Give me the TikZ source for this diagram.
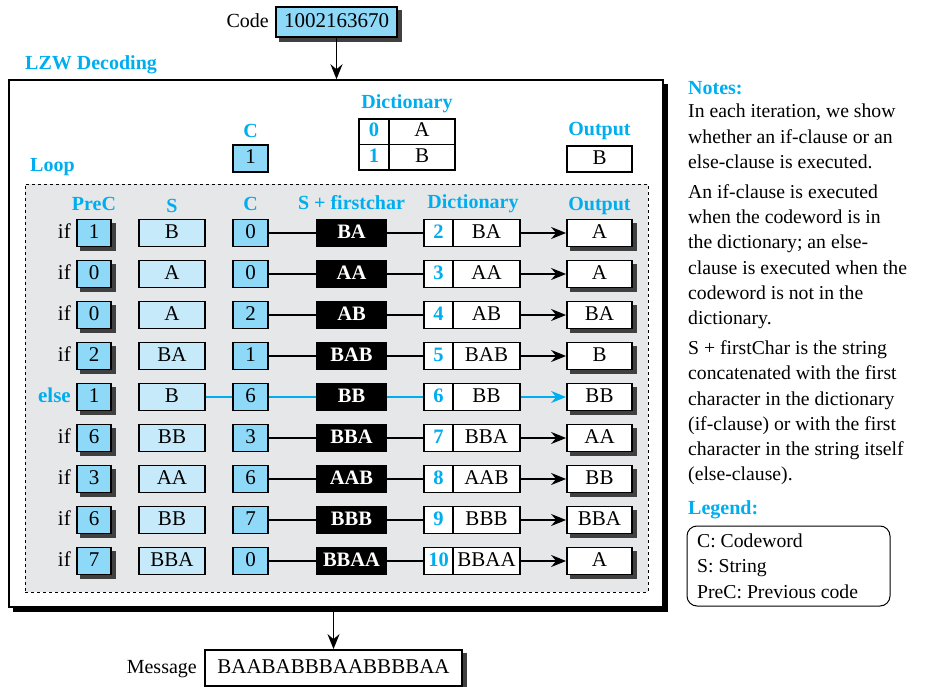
\documentclass[tikz,border=0pt]{standalone}
\usepackage{fontspec}
\setmainfont{Liberation Serif}
\usetikzlibrary{arrows.meta}
\definecolor{cy}{HTML}{00AEEF}
\definecolor{lb}{HTML}{8ED8F8}
\definecolor{llb}{HTML}{C6EAFA}
\definecolor{bgg}{HTML}{E6E7E8}
\definecolor{shad}{HTML}{404040}
\begin{document}
\begin{tikzpicture}[x=1pt,y=-1pt,font=\fontsize{21}{25}\selectfont,
  box/.style={draw,line width=1.8pt,inner sep=0pt,minimum height=27pt,text height=13.5pt,text depth=3pt},
  bl/.style={box,fill=lb},
  sh/.style={preaction={fill=shad,draw=shad,transform canvas={xshift=4pt,yshift=-4pt}}},
  hdr/.style={text=cy,font=\fontsize{20}{24}\selectfont\bfseries},
  kbox/.style={box,fill=black,text=white,font=\fontsize{20.5}{24}\selectfont\bfseries,minimum width=69pt},
  conn/.style={line width=1.8pt},
  arr/.style={conn,-{Stealth[length=15pt,width=12pt,inset=5pt]}},
  txt/.style={inner sep=0pt}]
\useasboundingbox (0,0) rectangle (929,687);

% code input
\node[bl,sh,minimum width=121pt,minimum height=30pt] (code) at (336.5,22) {1002163670};
\node[txt,anchor=east,font=\fontsize{20}{25}\selectfont] (codelbl) at (269,21) {Code};

% main box
\node[draw,line width=1.5pt,fill=white,minimum width=654pt,minimum height=527pt,
  preaction={fill=black,draw=black,line width=1.5pt,transform canvas={xshift=4.5pt,yshift=-4.5pt}}] (main) at (336,343.5) {};
\node[hdr,txt,anchor=west] (lzw) at (25,65) {LZW Decoding};
\draw[arr] (code) -- (code |- main.north);

% top initial
\node[hdr,txt] (hC) at (250.5,131) {C};
\node[bl,minimum width=35pt] (c0) at (250.5,158.5) {1};
\node[hdr,txt] (hD) at (407,104) {Dictionary};
\node[box,fill=white,minimum width=30pt,minimum height=25.5pt,text=cy,font=\fontsize{20.5}{24}\selectfont\bfseries] (i0) at (374,131.75) {0};
\node[box,fill=white,minimum width=66pt,minimum height=25.5pt] (v0) at (422,131.75) {A};
\node[box,fill=white,minimum width=30pt,minimum height=25.5pt,text=cy,font=\fontsize{20.5}{24}\selectfont\bfseries] (i1) at (374,157.25) {1};
\node[box,fill=white,minimum width=66pt,minimum height=25.5pt] (v1) at (422,157.25) {B};
\node[hdr,txt] (hO) at (599.5,131) {Output};
\node[box,fill=white,minimum width=65pt,minimum height=26pt] (o0) at (599.5,159) {B};

% loop
\node[hdr,txt,anchor=west] (loop) at (30,167) {Loop};
\node[draw,dashed,line width=0.9pt,fill=bgg,minimum width=623pt,minimum height=408pt] (loopbox) at (336.5,388) {};
\node[hdr,txt] at (94,204) {PreC};
\node[hdr,txt] at (172,206) {S};
\node[hdr,txt] at (250.5,204) {C};
\node[hdr,txt] at (351.5,203) {S + firstchar};
\node[hdr,txt] at (473,204) {Dictionary};
\node[hdr,txt] at (599.5,206) {Output};

\foreach \k/\ie/\p/\s/\c/\f/\n/\ds/\o in {
  1/if/1/B/0/BA/2/BA/A,
  2/if/0/A/0/AA/3/AA/A,
  3/if/0/A/2/AB/4/AB/BA,
  4/if/2/BA/1/BAB/5/BAB/B,
  5/{\textcolor{cy}{\bfseries else}}/1/B/6/BB/6/BB/BB,
  6/if/6/BB/3/BBA/7/BBA/AA,
  7/if/3/AA/6/AAB/8/AAB/BB,
  8/if/6/BB/7/BBB/9/BBB/BBA,
  9/if/7/BBA/0/BBAA/10/BBAA/A}{
  \pgfmathsetmacro{\yy}{233+41*(\k-1)}
  \ifnum\k=5 \def\lc{cy}\else\def\lc{black}\fi
  \node[txt,anchor=east,text height=13.5pt,text depth=3pt] (if\k) at (71,\yy) {\ie};
  \node[bl,sh,minimum width=34pt] (p\k) at (94,\yy) {\p};
  \node[box,fill=llb,minimum width=66pt] (s\k) at (172,\yy) {\s};
  \node[bl,minimum width=35pt] (c\k) at (250.5,\yy) {\c};
  \node[kbox] (k\k) at (351.5,\yy) {\f};
  \node[box,fill=white,minimum width=29pt,text=cy,font=\fontsize{20.5}{24}\selectfont\bfseries] (d\k) at (438.5,\yy) {\n};
  \node[box,fill=white,minimum width=67pt] (e\k) at (486.5,\yy) {\ds};
  \node[box,fill=white,sh,minimum width=65pt] (o\k) at (599.5,\yy) {\o};
  \ifnum\k=5 \draw[conn,draw=cy] (s\k) -- (c\k); \fi
  \draw[conn,draw=\lc] (c\k) -- (k\k);
  \draw[conn,draw=\lc] (k\k) -- (d\k);
  \draw[arr,draw=\lc,fill=\lc] (e\k) -- (o\k);
}

% message
\node[box,fill=white,sh,minimum width=257pt,minimum height=36pt] (msg) at (333.5,668) {BAABABBBAABBBBAA};
\node[txt,anchor=east,font=\fontsize{20}{25}\selectfont] (msglbl) at (197,669) {Message};
\draw[arr] (msg.north |- main.south) -- (msg.north);

% notes
\node[hdr,txt,anchor=west] (notes) at (688,88) {Notes:};
\node[txt,anchor=north west,align=left,font=\fontsize{19.7}{25.2}\selectfont] (ntext) at (688,104)
{In each iteration, we show\\
whether an if-clause or an\\
else-clause is executed.\\[5pt]
An if-clause is executed\\
when the codeword is in\\
the dictionary; an else-\\
clause is executed when the\\
codeword is not in the\\
dictionary.\\[5pt]
S + firstChar is the string\\
concatenated with the first\\
character in the dictionary\\
(if-clause) or with the first\\
character in the string itself\\
(else-clause).};
\node[hdr,txt,anchor=west] (legend) at (688,510) {Legend:};
\node[draw,line width=1pt,rounded corners=10pt,minimum width=203pt,minimum height=80pt] (legbox) at (788.5,566) {};
\node[txt,anchor=west,align=left,font=\fontsize{19.7}{25.5}\selectfont] (legtext) at (697,566)
{C: Codeword\\ S: String\\ PreC: Previous code};
\end{tikzpicture}
\end{document}
